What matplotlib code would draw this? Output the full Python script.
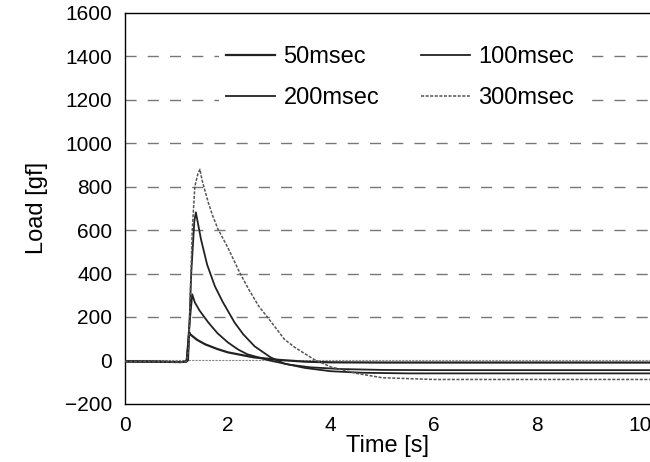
import matplotlib.pyplot as plt

plt.rcParams['font.family'] = ['Liberation Sans', 'DejaVu Sans']

# valores (tiempo en s, carga en gf)
t_50 = [0, 0.6, 1.1, 1.2, 1.23, 1.25, 1.27, 1.4, 1.56, 1.8, 2.0, 2.5, 3.0, 3.5, 4.0, 5.0, 6.0, 8.0, 10.2]
load_50 = [-5, -6, -8, -5, 60, 129, 120, 95, 74, 52, 37, 14, 2, -6, -9, -10, -10, -10, -10]

t_100 = [0, 0.6, 1.1, 1.2, 1.25, 1.31, 1.36, 1.45, 1.62, 1.8, 2.0, 2.2, 2.38, 2.8, 3.2, 3.6, 4.2, 5.0, 6.0, 8.0, 10.2]
load_100 = [-5, -6, -8, -5, 150, 304, 267, 230, 175, 125, 83, 50, 28, 0, -20, -32, -40, -44, -45, -45, -45]

t_200 = [0, 0.6, 1.1, 1.2, 1.23, 1.29, 1.35, 1.38, 1.48, 1.6, 1.75, 1.9, 2.13, 2.3, 2.52, 2.83, 3.1, 3.5, 4.0, 4.6, 5.5, 7.0, 10.2]
load_200 = [-5, -6, -8, -5, 0, 400, 640, 682, 557, 440, 341, 270, 175, 120, 65, 14, -15, -35, -50, -57, -60, -60, -60]

t_300 = [0, 0.6, 1.1, 1.2, 1.24, 1.31, 1.36, 1.42, 1.46, 1.5, 1.62, 1.7, 1.81, 2.0, 2.23, 2.4, 2.6, 2.8, 3.1, 3.3, 3.67, 4.0, 4.5, 5.0, 6.0, 8.0, 10.2]
load_300 = [-5, -6, -8, -5, 50, 600, 800, 860, 880, 830, 728, 670, 604, 520, 405, 330, 250, 190, 97, 60, 5, -30, -60, -80, -88, -88, -88]

y_ticks = [-200, 0, 200, 400, 600, 800, 1000, 1200, 1400, 1600]
x_ticks = [0, 2, 4, 6, 8, 10]

fig = plt.figure(figsize=(6.5, 4.62), dpi=100)
ax = fig.add_axes([0.192, 0.126, 0.808, 0.846])

# rejilla discontinua
for yv in y_ticks[2:-1]:
    ax.axhline(yv, color='#777777', lw=1, ls=(0, (8, 8)), zorder=1)
ax.axhline(0, color='#888888', lw=0.8, ls=(0, (2, 1)), zorder=1)

ax.plot(t_50, load_50, color='#222222', lw=1.6, label='50msec', zorder=3)
ax.plot(t_200, load_200, color='#222222', lw=1.3, label='200msec', zorder=3)
ax.plot(t_100, load_100, color='#222222', lw=1.3, label='100msec', zorder=3)
ax.plot(t_300, load_300, color='#555555', lw=1.1, ls=(0, (2, 1)), label='300msec', zorder=3)

ax.set_xlim(0, 10.2)
ax.set_ylim(-200, 1600)
ax.set_xticks(x_ticks)
ax.set_yticks(y_ticks)
ax.set_yticklabels(['\u2212200' if v < 0 else str(v) for v in y_ticks])
ax.tick_params(length=0, labelsize=15, pad=9)
ax.set_xlabel('Time [s]', fontsize=17, labelpad=0)
ax.set_ylabel('Load [gf]', fontsize=17, labelpad=12)
ax.spines['right'].set_visible(False)
for s in ['left', 'bottom', 'top']:
    ax.spines[s].set_linewidth(1.0)

leg = ax.legend(ncol=2, loc='center', bbox_to_anchor=(0.524, 0.834), fontsize=17,
                frameon=True, facecolor='white', edgecolor='none', framealpha=1,
                handlelength=2.1, handletextpad=0.35, columnspacing=1.75,
                labelspacing=0.8, borderpad=0.3)
leg.set_zorder(5)

fig.savefig('out.png', dpi=100)
